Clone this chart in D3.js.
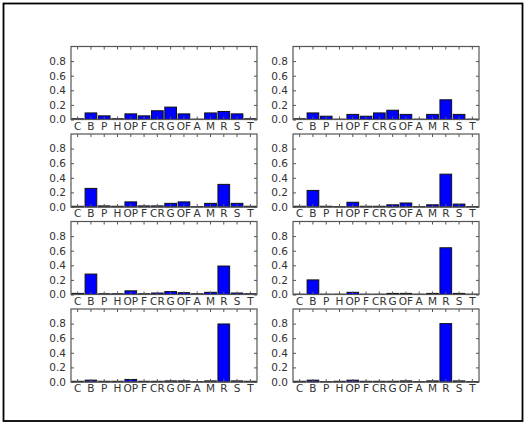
<!DOCTYPE html>
<html>
<head>
<meta charset="utf-8">
<script src="https://cdn.jsdelivr.net/npm/d3@7"></script>
<style>
  html, body { margin: 0; padding: 0; background: #fff; }
  svg { display: block; }
  .tick text { font-family: "DejaVu Sans", sans-serif; font-size: 10.5px; fill: #333; }
</style>
</head>
<body>
<div id="chart"></div>
<script>
// Category labels shared by every panel
const categories = ["C", "B", "P", "H", "OP", "F", "CR", "G", "OF", "A", "M", "R", "S", "T"];
const yTicks = [0.0, 0.2, 0.4, 0.6, 0.8];

// One series per panel, read row by row (left, right)
const panel1 = [0.01, 0.09, 0.05, 0.01, 0.077, 0.05, 0.12, 0.17, 0.077, 0.005, 0.09, 0.11, 0.077, 0.01];
const panel2 = [0.01, 0.09, 0.045, 0.005, 0.07, 0.045, 0.09, 0.127, 0.07, 0.005, 0.07, 0.27, 0.07, 0.005];
const panel3 = [0.01, 0.255, 0.015, 0.01, 0.07, 0.015, 0.015, 0.05, 0.07, 0.005, 0.05, 0.31, 0.05, 0.01];
const panel4 = [0.01, 0.227, 0.01, 0.005, 0.065, 0.01, 0.01, 0.03, 0.055, 0.005, 0.03, 0.45, 0.04, 0.005];
const panel5 = [0.015, 0.28, 0.01, 0.01, 0.05, 0.01, 0.02, 0.04, 0.025, 0.01, 0.03, 0.39, 0.02, 0.01];
const panel6 = [0.005, 0.2, 0.005, 0.005, 0.03, 0.005, 0.005, 0.015, 0.015, 0.005, 0.015, 0.64, 0.015, 0.005];
const panel7 = [0.01, 0.025, 0.01, 0.01, 0.035, 0.01, 0.01, 0.015, 0.015, 0.005, 0.015, 0.795, 0.015, 0.01];
const panel8 = [0.01, 0.025, 0.005, 0.01, 0.025, 0.01, 0.01, 0.01, 0.015, 0.005, 0.015, 0.8, 0.015, 0.005];

const panels = [panel1, panel2, panel3, panel4, panel5, panel6, panel7, panel8];

const W = 527, H = 424;
const svg = d3.select("#chart").append("svg").attr("width", W).attr("height", H);

// Figure frame
svg.append("rect")
  .attr("x", 3.5).attr("y", 3.5)
  .attr("width", 519).attr("height", 417.5)
  .attr("fill", "#fff").attr("stroke", "#000").attr("stroke-width", 1.8);

// Grid of axes: 4 rows x 2 columns
const colX = [71, 293];
const axW = 186;
const rowTop = [46.5, 134, 221.5, 309];
const axH = 73;
const edge = "#555";

panels.forEach((vals, i) => {
  const r = Math.floor(i / 2), c = i % 2;
  const g = svg.append("g").attr("transform", `translate(${colX[c]},${rowTop[r]})`);

  const x = d3.scaleBand().domain(categories).range([0, axW]).paddingInner(0.12).paddingOuter(0.06);
  const y = d3.scaleLinear().domain([0, 1]).range([axH, 0]);

  // Bars
  g.selectAll("rect.bar")
    .data(vals)
    .join("rect")
    .attr("class", "bar")
    .attr("x", (d, k) => x(categories[k]))
    .attr("width", x.bandwidth())
    .attr("y", d => y(d))
    .attr("height", d => y(0) - y(d))
    .attr("fill", "#0000ff")
    .attr("stroke", "#111")
    .attr("stroke-width", 1);

  // Inward ticks on all four sides, labels left and bottom
  const bottom = d3.axisBottom(x).tickSize(-3).tickPadding(3);
  const top = d3.axisTop(x).tickSize(-3).tickFormat("");
  const left = d3.axisLeft(y).tickValues(yTicks).tickSize(-3).tickPadding(5).tickFormat(d3.format(".1f"));
  const right = d3.axisRight(y).tickValues(yTicks).tickSize(-3).tickFormat("");

  const axes = [
    g.append("g").attr("transform", `translate(0,${axH})`).call(bottom),
    g.append("g").call(top),
    g.append("g").call(left),
    g.append("g").attr("transform", `translate(${axW},0)`).call(right)
  ];
  axes.forEach(a => {
    a.select(".domain").remove();
    a.selectAll(".tick line").attr("stroke", edge);
  });

  // Axes frame
  g.append("rect")
    .attr("width", axW).attr("height", axH)
    .attr("fill", "none").attr("stroke", edge).attr("stroke-width", 1.2);
});
</script>
</body>
</html>
